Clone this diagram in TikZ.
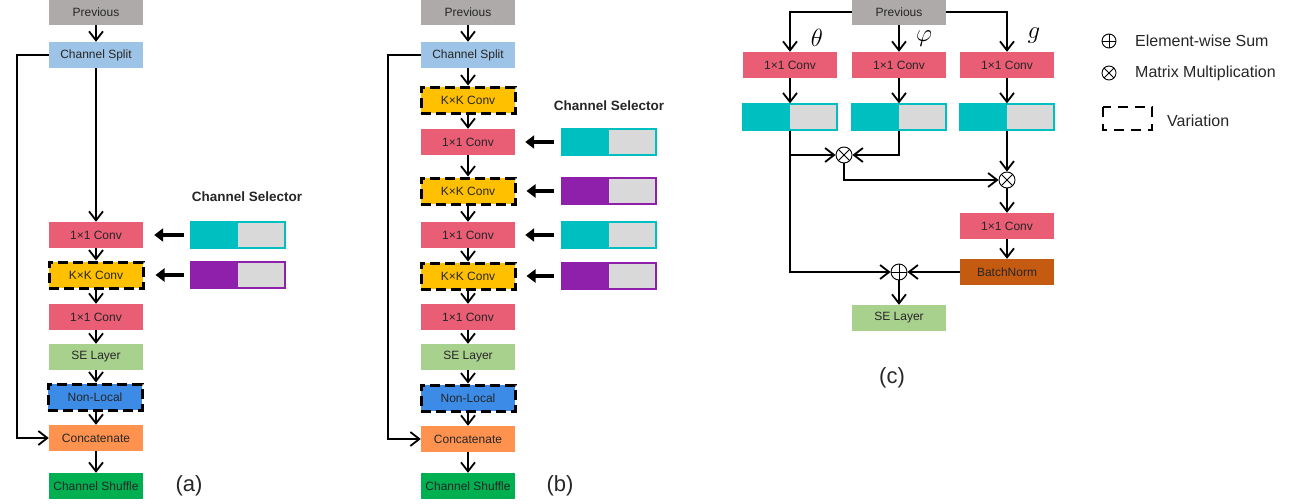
\documentclass[tikz,border=0pt]{standalone}
\usepackage{fontspec}
\setmainfont{Liberation Sans}
\usetikzlibrary{arrows.meta}
\definecolor{cprev}{HTML}{AEAAAA}
\definecolor{csplit}{HTML}{9DC3E6}
\definecolor{cconv}{HTML}{E95D75}
\definecolor{ckk}{HTML}{FFC000}
\definecolor{cse}{HTML}{A9D18E}
\definecolor{cnl}{HTML}{3C8CE7}
\definecolor{ccat}{HTML}{FF924F}
\definecolor{cshuf}{HTML}{00B050}
\definecolor{cbn}{HTML}{C55A11}
\definecolor{cteal}{HTML}{00BFC0}
\definecolor{cpurp}{HTML}{8E20AB}
\definecolor{cgray}{HTML}{D9D9D9}
\definecolor{ctxt}{HTML}{262626}
\begin{document}
\begin{tikzpicture}[x=1pt,y=-1pt,
  blk/.style={minimum width=94pt,minimum height=26pt,inner sep=0pt,
    font=\fontsize{12}{14}\selectfont,text=ctxt},
  varb/.style={draw=black,line width=3pt,dash pattern=on 10pt off 5pt},
  arr/.style={line width=1.8pt,-{Straight Barb[length=9pt,width=14pt]}},
  sarr/.style={line width=4pt,-{Triangle[length=9pt,width=13pt]}},
  selbar/.style={minimum width=94pt,minimum height=26pt,inner sep=0pt,fill=cgray,line width=1.3pt},
  seltitle/.style={font=\bfseries\fontsize{13.5}{16}\selectfont,text=ctxt},
  plab/.style={font=\fontsize{22}{26}\selectfont,text=ctxt},
  opsym/.style={circle,draw=black,line width=0.9pt,minimum size=16pt,inner sep=0pt},
  osum/.style={opsym,path picture={\draw[line width=0.9pt] (path picture bounding box.north) -- (path picture bounding box.south) (path picture bounding box.west) -- (path picture bounding box.east);}},
  omul/.style={opsym,path picture={\draw[line width=0.9pt] (path picture bounding box.north west) -- (path picture bounding box.south east) (path picture bounding box.north east) -- (path picture bounding box.south west);}},
  leg/.style={font=\fontsize{16}{19}\selectfont,text=ctxt,anchor=west,inner sep=0pt},
  greek/.style={font=\fontsize{25}{28}\selectfont}
]
\useasboundingbox (0,0) rectangle (1311,503);

% ---------------- Panel (a) ----------------
\node[blk,fill=cprev] (prevA) at (96,12) {Previous};
\node[blk,fill=csplit] (splitA) at (96,55) {Channel Split};
\node[blk,fill=cconv] (c1A) at (96,235) {1×1 Conv};
\node[blk,fill=ckk,varb] (kkA) at (96,275) {K×K Conv};
\node[blk,fill=cconv] (c2A) at (96,317) {1×1 Conv};
\node[blk,fill=cse] (seA) at (96,357) {SE Layer};
\node[blk,fill=cnl,varb] (nlA) at (95,397) {Non-Local};
\node[blk,fill=ccat] (catA) at (96,438) {Concatenate};
\node[blk,fill=cshuf] (shufA) at (96,486) {Channel Shuffle};
\node[plab] (labA) at (189,486) {(a)};
\coordinate (la) at (17,55);

\draw[arr] (prevA) -- (splitA);
\draw[arr] (splitA) -- (c1A);
\draw[arr] (c1A) -- (kkA);
\draw[arr] (kkA) -- (c2A);
\draw[arr] (c2A) -- (seA);
\draw[arr] (seA) -- (nlA.north -| seA);
\draw[arr] (nlA.south -| catA) -- (catA);
\draw[arr] (catA) -- (shufA);
\draw[arr] (splitA.west) -- (la) |- (catA.west);

\node[seltitle] (stA) at (247,197) {Channel Selector};
\node[selbar,draw=cteal] (sa1) at (238,235) {};
\fill[cteal] (sa1.north west) rectangle (sa1.south);
\node[selbar,draw=cpurp] (sa2) at (238,275) {};
\fill[cpurp] (sa2.north west) rectangle (sa2.south);
\draw[sarr] ([xshift=-6pt]sa1.west) -- ([xshift=11pt]c1A.east);
\draw[sarr] ([xshift=-6pt]sa2.west) -- ([xshift=11pt]kkA.east);

% ---------------- Panel (b) ----------------
\node[blk,fill=cprev] (prevB) at (468,12) {Previous};
\node[blk,fill=csplit] (splitB) at (468,55) {Channel Split};
\node[blk,fill=ckk,varb] (kk1B) at (468,100) {K×K Conv};
\node[blk,fill=cconv] (c1B) at (468,142) {1×1 Conv};
\node[blk,fill=ckk,varb] (kk2B) at (468,191) {K×K Conv};
\node[blk,fill=cconv] (c2B) at (468,235) {1×1 Conv};
\node[blk,fill=ckk,varb] (kk3B) at (468,276) {K×K Conv};
\node[blk,fill=cconv] (c3B) at (468,317) {1×1 Conv};
\node[blk,fill=cse] (seB) at (468,357) {SE Layer};
\node[blk,fill=cnl,varb] (nlB) at (468,398) {Non-Local};
\node[blk,fill=ccat] (catB) at (468,439) {Concatenate};
\node[blk,fill=cshuf] (shufB) at (468,486) {Channel Shuffle};
\node[plab] (labB) at (560,486) {(b)};
\coordinate (lb) at (388,55);

\draw[arr] (prevB) -- (splitB);
\draw[arr] (splitB) -- (kk1B);
\draw[arr] (kk1B) -- (c1B);
\draw[arr] (c1B) -- (kk2B);
\draw[arr] (kk2B) -- (c2B);
\draw[arr] (c2B) -- (kk3B);
\draw[arr] (kk3B) -- (c3B);
\draw[arr] (c3B) -- (seB);
\draw[arr] (seB) -- (nlB);
\draw[arr] (nlB) -- (catB);
\draw[arr] (catB) -- (shufB);
\draw[arr] (splitB.west) -- (lb) |- (catB.west);

\node[seltitle] (stB) at (609,106) {Channel Selector};
\node[selbar,draw=cteal] (sb1) at (609,142) {};
\fill[cteal] (sb1.north west) rectangle (sb1.south);
\node[selbar,draw=cpurp] (sb2) at (609,191) {};
\fill[cpurp] (sb2.north west) rectangle (sb2.south);
\node[selbar,draw=cteal] (sb3) at (609,235) {};
\fill[cteal] (sb3.north west) rectangle (sb3.south);
\node[selbar,draw=cpurp] (sb4) at (609,276) {};
\fill[cpurp] (sb4.north west) rectangle (sb4.south);
\draw[sarr] ([xshift=-7pt]sb1.west) -- ([xshift=10pt]c1B.east);
\draw[sarr] ([xshift=-7pt]sb2.west) -- ([xshift=10pt]kk2B.east);
\draw[sarr] ([xshift=-7pt]sb3.west) -- ([xshift=10pt]c2B.east);
\draw[sarr] ([xshift=-7pt]sb4.west) -- ([xshift=10pt]kk3B.east);

% ---------------- Panel (c) ----------------
\node[blk,fill=cprev] (prevC) at (899,12) {Previous};
\node[blk,fill=cconv] (convT) at (790,65) {1×1 Conv};
\node[blk,fill=cconv] (convP) at (899,65) {1×1 Conv};
\node[blk,fill=cconv] (convG) at (1007,65) {1×1 Conv};
\node[greek] (thT) at (817,38) {$\theta$};
\node[greek] (thP) at (924,39) {$\varphi$};
\node[greek] (thG) at (1034,36) {$g$};
\node[selbar,draw=cteal] (barT) at (790,117) {};
\fill[cteal] (barT.north west) rectangle (barT.south);
\node[selbar,draw=cteal] (barP) at (899,117) {};
\fill[cteal] (barP.north west) rectangle (barP.south);
\node[selbar,draw=cteal] (barG) at (1007,117) {};
\fill[cteal] (barG.north west) rectangle (barG.south);
\node[omul] (mul1) at (844,155) {};
\node[omul] (mul2) at (1007,180) {};
\node[blk,fill=cconv] (conv4) at (1007,226) {1×1 Conv};
\node[blk,fill=cbn] (bn) at (1007,272) {BatchNorm};
\node[osum] (sum) at (899,272) {};
\node[blk,fill=cse] (seC) at (899,318) {SE Layer};
\node[plab] (labC) at (892,378) {(c)};

\draw[arr] (prevC.west) -| (convT.north);
\draw[arr] (prevC) -- (convP);
\draw[arr] (prevC.east) -| (convG.north);
\draw[arr] (convT) -- (barT);
\draw[arr] (convP) -- (barP);
\draw[arr] (convG) -- (barG);
\draw[arr] (barT.south) |- (sum.west);
\draw[arr] (barT.south |- mul1) -- (mul1.west);
\draw[arr] (barP.south) |- (mul1.east);
\draw[arr] (barG) -- (mul2);
\draw[arr] (mul1.south) |- (mul2.west);
\draw[arr] (mul2) -- (conv4);
\draw[arr] (conv4) -- (bn);
\draw[arr] (bn) -- (sum);
\draw[arr] (sum) -- (seC);

% ---------------- Legend ----------------
\node[osum,minimum size=14pt] (lgsum) at (1109,41) {};
\node[leg] (lgsumt) at (1135,41) {Element-wise Sum};
\node[omul,minimum size=14pt] (lgmul) at (1109,73) {};
\node[leg] (lgmult) at (1135,73) {Matrix Multiplication};
\draw[line width=2.5pt,dash pattern=on 10pt off 7pt] (1103,107) rectangle (1152,130);
\node[leg] (lgvar) at (1167,121) {Variation};
\end{tikzpicture}
\end{document}
